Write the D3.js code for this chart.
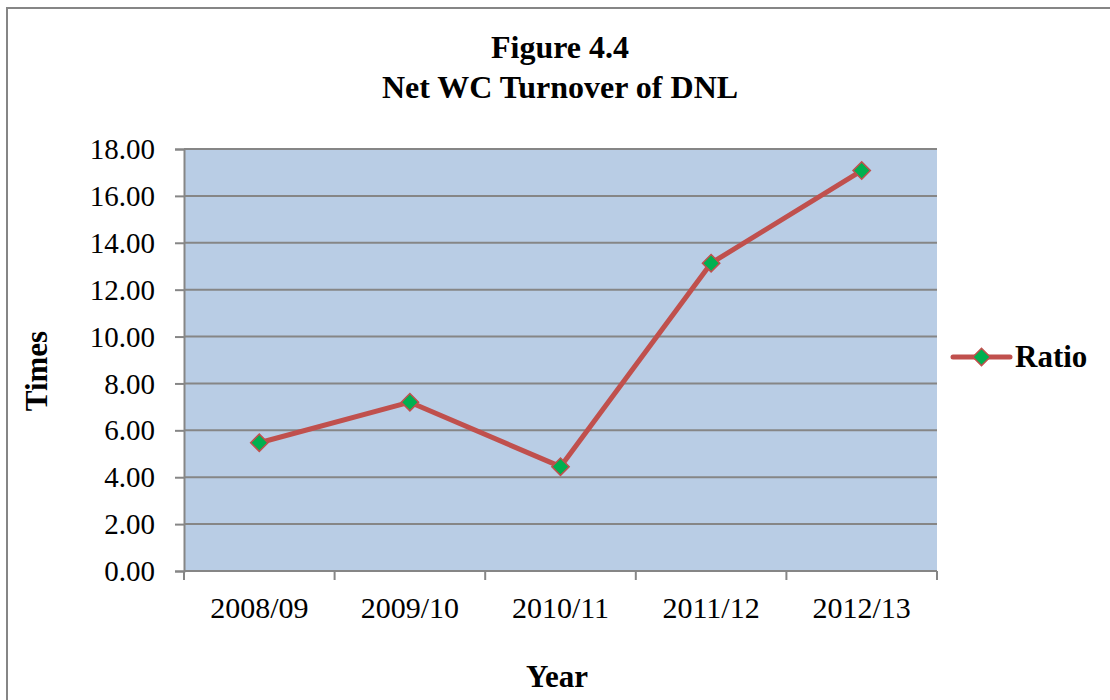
<!DOCTYPE html>
<html>
<head>
<meta charset="utf-8">
<script src="https://cdn.jsdelivr.net/npm/d3@7"></script>
<style>
  html, body { margin: 0; padding: 0; background: #fff; }
  svg { display: block; font-family: "Liberation Serif", "Times New Roman", serif; }
</style>
</head>
<body>
<svg id="chart" width="1110" height="700"></svg>
<script>
// Net working capital turnover (times) by fiscal year
const years = ["2008/09", "2009/10", "2010/11", "2011/12", "2012/13"];
const ratio = [5.47, 7.20, 4.45, 13.13, 17.08];
const yTicks = [0, 2, 4, 6, 8, 10, 12, 14, 16, 18];
const seriesName = "Ratio";
const titleLines = ["Figure 4.4", "Net WC Turnover of DNL"];

const svg = d3.select("#chart");
const W = 1110, H = 700;
const plot = { left: 184, top: 149, right: 937, bottom: 571 };
const serif = "Liberation Serif, Times New Roman, serif";

// outer chart frame (runs past the right/bottom edges)
svg.append("rect")
  .attr("x", 7).attr("y", 8)
  .attr("width", W + 20).attr("height", H + 20)
  .attr("fill", "#fff").attr("stroke", "#868686").attr("stroke-width", 2);

const x = d3.scaleBand().domain(years).range([plot.left, plot.right]).padding(0);
const y = d3.scaleLinear().domain([0, 18]).range([plot.bottom, plot.top]);

// plot background
svg.append("rect")
  .attr("x", plot.left).attr("y", plot.top)
  .attr("width", plot.right - plot.left).attr("height", plot.bottom - plot.top)
  .attr("fill", "#B9CDE5");

// horizontal gridlines
svg.append("g").selectAll("line").data(yTicks).join("line")
  .attr("x1", plot.left).attr("x2", plot.right)
  .attr("y1", d => y(d)).attr("y2", d => y(d))
  .attr("stroke", "#868686").attr("stroke-width", 2);

// y axis
const yAxis = svg.append("g").attr("transform", `translate(${plot.left},0)`)
  .attr("font-size", 29).attr("font-family", serif)
  .call(d3.axisLeft(y).tickValues(yTicks).tickFormat(d3.format(".2f")).tickSize(9).tickPadding(20));
yAxis.attr("font-size", 29).attr("font-family", serif);
yAxis.select(".domain").attr("stroke", "#868686").attr("stroke-width", 2);
yAxis.selectAll(".tick line").attr("stroke", "#868686").attr("stroke-width", 2);
yAxis.selectAll("text").attr("fill", "#000").attr("dy", "0.33em");

// x axis with ticks on category boundaries
const xAxisG = svg.append("g").attr("transform", `translate(0,${plot.bottom})`);
xAxisG.append("line")
  .attr("x1", plot.left).attr("x2", plot.right)
  .attr("stroke", "#868686").attr("stroke-width", 2);
const bounds = years.map(d => x(d)).concat([x(years[years.length - 1]) + x.bandwidth()]);
xAxisG.selectAll("line.tk").data(bounds).join("line").attr("class", "tk")
  .attr("x1", d => d).attr("x2", d => d).attr("y1", 0).attr("y2", 9)
  .attr("stroke", "#868686").attr("stroke-width", 2);
xAxisG.selectAll("text").data(years).join("text")
  .attr("x", d => x(d) + x.bandwidth() / 2).attr("y", 47)
  .attr("text-anchor", "middle").attr("font-size", 30).attr("fill", "#000")
  .text(d => d);

// series line
const cx = d => x(d) + x.bandwidth() / 2;
const line = d3.line().x((d, i) => cx(years[i])).y(d => y(d));
svg.append("path").datum(ratio)
  .attr("d", line).attr("fill", "none")
  .attr("stroke", "#C0504D").attr("stroke-width", 5).attr("stroke-linejoin", "round");

// diamond markers
const diamond = d3.symbol().type(d3.symbolSquare).size(150);
svg.append("g").selectAll("path").data(ratio).join("path")
  .attr("d", diamond)
  .attr("transform", (d, i) => `translate(${cx(years[i])},${y(d)}) rotate(45)`)
  .attr("fill", "#00B050").attr("stroke", "#C0504D").attr("stroke-width", 1.5);

// title
svg.append("text").attr("x", 560).attr("y", 58).attr("text-anchor", "middle")
  .attr("font-size", 32).attr("font-weight", "bold").text(titleLines[0]);
svg.append("text").attr("x", 560).attr("y", 98).attr("text-anchor", "middle")
  .attr("font-size", 32).attr("font-weight", "bold").text(titleLines[1]);

// axis titles
svg.append("text").attr("x", 557).attr("y", 687).attr("text-anchor", "middle")
  .attr("font-size", 31).attr("font-weight", "bold").text("Year");
svg.append("text").attr("transform", "translate(47,371) rotate(-90)")
  .attr("text-anchor", "middle").attr("font-size", 31).attr("font-weight", "bold").text("Times");

// legend
const lg = svg.append("g").attr("transform", "translate(953,357)");
lg.append("line").attr("x1", 0).attr("x2", 57).attr("y1", 0).attr("y2", 0)
  .attr("stroke", "#C0504D").attr("stroke-width", 5).attr("stroke-linecap", "round");
lg.append("path").attr("d", diamond).attr("transform", "translate(28.5,0) rotate(45)")
  .attr("fill", "#00B050").attr("stroke", "#C0504D").attr("stroke-width", 1.5);
lg.append("text").attr("x", 62).attr("y", 10).attr("font-size", 31)
  .attr("font-weight", "bold").text(seriesName);
</script>
</body>
</html>
